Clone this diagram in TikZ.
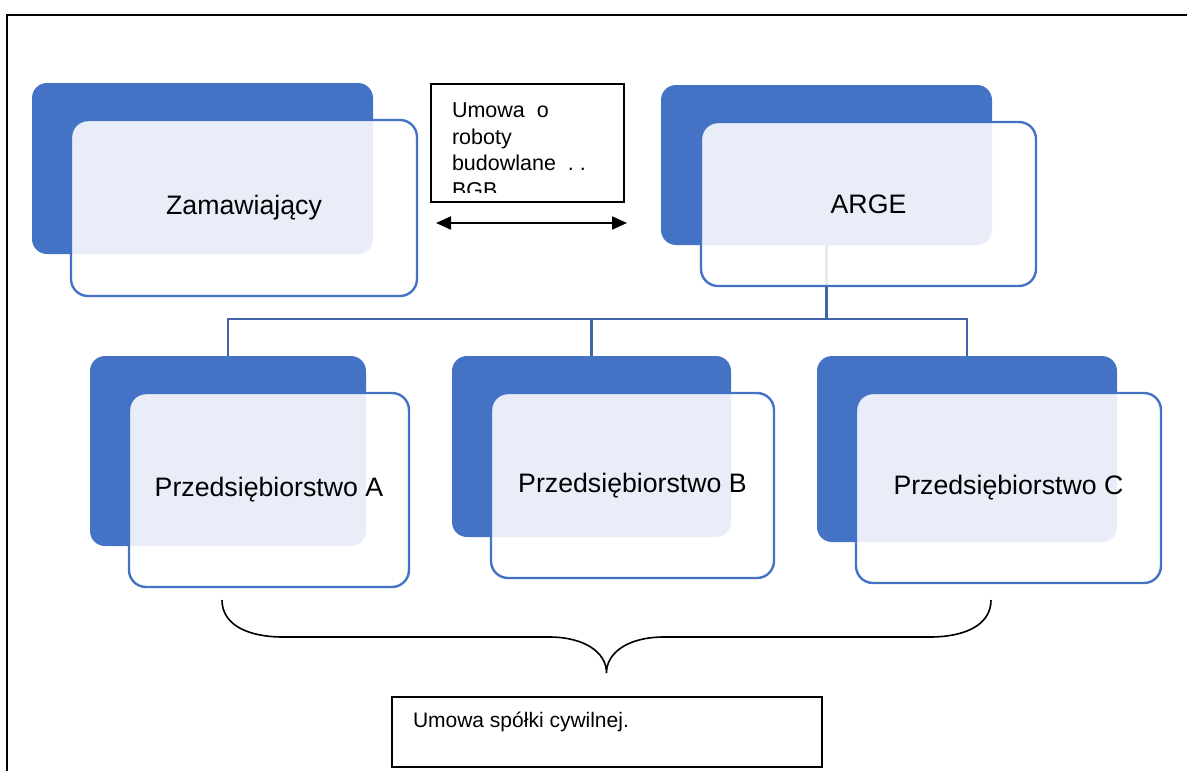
\documentclass[tikz,border=0pt]{standalone}
\usepackage{fontspec}
\setmainfont{Liberation Sans}
\usepackage{tikz}
\usetikzlibrary{positioning,arrows.meta}
\definecolor{cardblue}{HTML}{4472C4}
\definecolor{linkblue}{HTML}{4164AA}
\tikzset{
  backcard/.style={rectangle,rounded corners=15pt,fill=cardblue,draw=none,outer sep=0pt},
  frontcard/.style={rectangle,rounded corners=17pt,draw=cardblue,line width=2.4pt,
    fill=white,fill opacity=0.88,text opacity=1,outer sep=0pt,
    font=\fontsize{26.7}{32}\selectfont},
  textbox/.style={rectangle,draw=black,line width=1.5pt,fill=white,outer sep=0pt},
  plain/.style={inner sep=0pt,outer sep=0pt,minimum width=0pt,minimum height=0pt},
  link/.style={draw=linkblue,line width=2.4pt},
  biarrow/.style={{Triangle[length=15pt,width=13pt]}-{Triangle[length=15pt,width=13pt]},line width=2pt},
  frame/.style={draw=black,line width=2pt}
}
\begin{document}
\begin{tikzpicture}[x=1pt,y=-1pt]
  \useasboundingbox (0,0) rectangle (1187,771);
  \draw[frame] (1187,14.5) -| (7,771);

  % back cards
  \node[backcard,minimum width=341pt,minimum height=171pt] (zamB) at (202.5,168.5) {};
  \node[backcard,minimum width=331pt,minimum height=160pt] (argeB) at (826.5,165) {};
  \node[backcard,minimum width=276pt,minimum height=190pt] (firmaAB) at (228,451) {};
  \node[backcard,minimum width=279pt,minimum height=181pt] (firmaBB) at (591.5,446.5) {};
  \node[backcard,minimum width=300pt,minimum height=186pt] (firmaCB) at (967,449) {};

  % connectors
  \coordinate (bus) at (826.5,319);
  \draw[link] (argeB.south) -- (bus);
  \draw[link] (firmaAB.north) |- (bus);
  \draw[link] (firmaBB.north) |- (bus);
  \draw[link] (firmaCB.north) |- (bus);

  % front cards
  \node[frontcard,minimum width=346pt,minimum height=176pt,below right=37pt and 39pt of zamB.north west] (zam) {Zamawiający};
  \node[frontcard,minimum width=335pt,minimum height=164pt,below right=37pt and 40pt of argeB.north west] (arge) {ARGE};
  \node[frontcard,minimum width=280pt,minimum height=194pt,below right=37pt and 39pt of firmaAB.north west] (firmaA) {Przedsiębiorstwo A};
  \node[frontcard,minimum width=283pt,minimum height=185pt,below right=37pt and 39pt of firmaBB.north west] (firmaB) {Przedsiębiorstwo B};
  \node[frontcard,minimum width=305pt,minimum height=190pt,below right=37pt and 39pt of firmaCB.north west] (firmaC) {Przedsiębiorstwo C};

  % contract between client and ARGE
  \node[textbox,minimum width=193pt,minimum height=118pt,
    path picture={
      \clip ([yshift=10pt]path picture bounding box.south west) rectangle (path picture bounding box.north east);
      \node[plain,anchor=north west,align=left,font=\fontsize{21.5}{26.5}\selectfont]
        at ([xshift=21pt,yshift=-19pt]path picture bounding box.north west)
        {Umowa\ \ o\\roboty\\budowlane\ \ .\ .\\BGB};
    }] (bgb) at (527.5,143) {};
  \coordinate (arrL) at (436,223);
  \coordinate (arrR) at (627,223);
  \draw[biarrow] (arrL) -- (arrR);

  % brace over the partners
  \coordinate (braceL) at (222,600);
  \coordinate (braceR) at (991,600);
  \coordinate (braceTip) at (606.5,673);
  \draw[line width=1.6pt] (braceL) .. controls (222,626) and (250,637) .. (283,637) -- (549,637)
    .. controls (584,637) and (606.5,652) .. (braceTip)
    .. controls (606.5,652) and (629,637) .. (664,637) -- (930,637)
    .. controls (963,637) and (991,626) .. (braceR);

  % partnership agreement
  \node[textbox,minimum width=430pt,minimum height=70pt] (spolka) at (607,732) {};
  \node[plain,font=\fontsize{21}{25}\selectfont,below right=15pt and 21pt of spolka.north west] (spolkaText) {Umowa spółki cywilnej.};
\end{tikzpicture}
\end{document}
